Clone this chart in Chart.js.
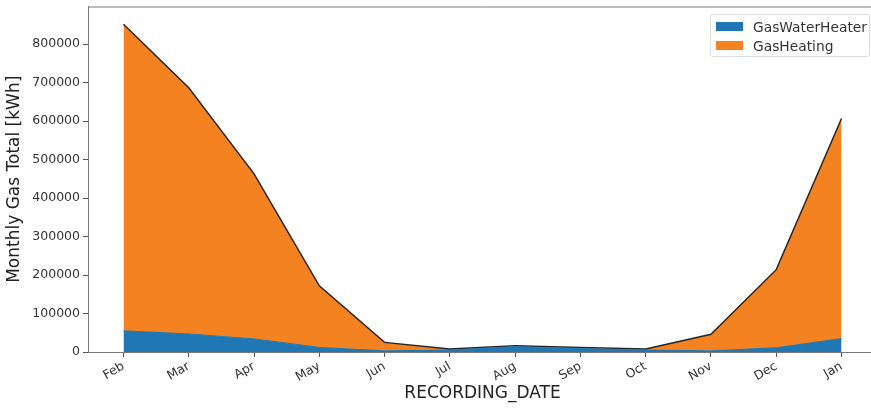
<!DOCTYPE html>
<html>
<head>
<meta charset="utf-8">
<script src="https://cdn.jsdelivr.net/npm/chart.js@4/dist/chart.umd.min.js"></script>
<style>
  html, body { margin: 0; padding: 0; background: #fff; overflow: hidden; }
  #wrap { position: relative; width: 871px; height: 408px; overflow: hidden; }
  #box { position: absolute; left: 0; top: -4px; width: 880px; height: 412px; }
  #legend {
    position: absolute; left: 710px; top: 14px; width: 158px; height: 41px;
    border: 1px solid #dcdcdc; border-radius: 3px; background: rgba(255,255,255,0.85);
    font-family: "DejaVu Sans", sans-serif; font-size: 13.8px; color: #333;
  }
  .item { position: absolute; left: 5px; height: 16px; line-height: 16px; }
  .patch { position: absolute; left: 0; top: 3px; width: 27px; height: 9px; }
  .lbl { position: absolute; left: 37px; top: 0; white-space: nowrap; }
</style>
</head>
<body>
<div id="wrap">
  <div id="box"><canvas id="c" width="880" height="412"></canvas></div>
  <div id="legend"></div>
</div>
<script>
// Months on the x axis
const months = ['Feb', 'Mar', 'Apr', 'May', 'Jun', 'Jul', 'Aug', 'Sep', 'Oct', 'Nov', 'Dec', 'Jan'];
// Monthly gas use per end use [kWh]
const gasWaterHeater = [55000, 47000, 34000, 12000, 3000, 5000, 14000, 9000, 5000, 3000, 11000, 35000];
const gasHeating = [797000, 640000, 429000, 160000, 22000, 3000, 2000, 3000, 3000, 43000, 203000, 572000];
// Y axis tick values
const yTicks = [0, 100000, 200000, 300000, 400000, 500000, 600000, 700000, 800000];

const seriesNames = ['GasWaterHeater', 'GasHeating'];
const blue = '#1f77b4';
const orange = '#f58220';

const pts = arr => arr.map((v, i) => ({ x: i, y: v }));

// top frame line
const frame = {
  id: 'frame',
  afterDraw(chart) {
    const { ctx, chartArea: a } = chart;
    ctx.save();
    ctx.strokeStyle = '#7a7a7a';
    ctx.lineWidth = 1;
    ctx.beginPath();
    ctx.moveTo(a.left, a.top + 0.5);
    ctx.lineTo(a.right, a.top + 0.5);
    ctx.stroke();
    ctx.restore();
  }
};

const font = { family: '"DejaVu Sans", sans-serif', size: 12.5 };

new Chart(document.getElementById('c'), {
  type: 'line',
  data: {
    datasets: [
      {
        label: seriesNames[0],
        data: pts(gasWaterHeater),
        backgroundColor: blue,
        borderColor: blue,
        borderWidth: 1,
        fill: 'origin',
        pointRadius: 0,
        tension: 0
      },
      {
        label: seriesNames[1],
        data: pts(gasHeating),
        backgroundColor: orange,
        borderColor: '#262626',
        borderWidth: 1.5,
        fill: '-1',
        pointRadius: 0,
        tension: 0
      }
    ]
  },
  options: {
    responsive: false,
    animation: false,
    layout: { padding: { left: 0, right: 3, top: 0, bottom: 0 } },
    plugins: { legend: { display: false }, tooltip: { enabled: false } },
    scales: {
      x: {
        type: 'linear',
        min: -0.5437,
        max: 11.5437,
        afterBuildTicks: s => { s.ticks = months.map((_, i) => ({ value: i })); },
        afterFit: s => { s.height = 56; },
        ticks: {
          minRotation: 30, maxRotation: 30, autoSkip: false,
          padding: 2, color: '#333', font,
          callback: v => months[v]
        },
        grid: { display: true, drawOnChartArea: false, drawTicks: true, tickLength: 5, color: '#555' },
        border: { display: true, color: '#7a7a7a', width: 1 },
        title: {
          display: true, text: 'RECORDING_DATE', color: '#222',
          font: { family: '"DejaVu Sans", sans-serif', size: 17 },
          padding: { top: 0, bottom: 4 }
        }
      },
      y: {
        stacked: true,
        min: 0,
        max: 898000,
        afterBuildTicks: s => { s.ticks = yTicks.map(v => ({ value: v })); },
        afterFit: s => { s.width = 88; },
        ticks: { color: '#333', font, padding: 3, callback: v => String(v) },
        grid: { display: true, drawOnChartArea: false, drawTicks: true, tickLength: 5, color: '#555' },
        border: { display: true, color: '#7a7a7a', width: 1 },
        title: {
          display: true, text: 'Monthly Gas Total [kWh]', color: '#222',
          font: { family: '"DejaVu Sans", sans-serif', size: 17 },
          padding: { top: 4, bottom: 0 }
        }
      }
    }
  },
  plugins: [frame]
});

// legend entries
const lg = document.getElementById('legend');
[blue, orange].forEach((col, i) => {
  const it = document.createElement('div');
  it.className = 'item';
  it.style.top = (4 + i * 19) + 'px';
  it.innerHTML = '<span class="patch" style="background:' + col + '"></span><span class="lbl">' + seriesNames[i] + '</span>';
  lg.appendChild(it);
});
</script>
</body>
</html>
